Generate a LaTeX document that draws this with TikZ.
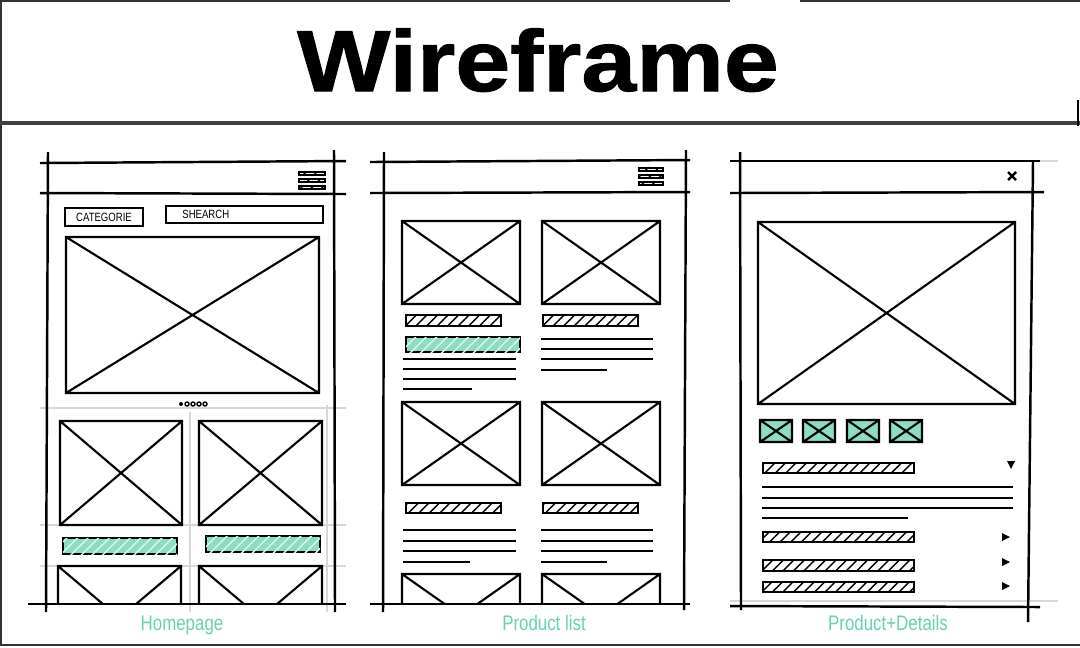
\documentclass[tikz,border=0pt]{standalone}
\usepackage{fontspec}
\usetikzlibrary{patterns}
\newfontfamily\headfont{Liberation Sans}[FakeStretch=1.14,FakeBold=1.2]
\newfontfamily\handfont{Liberation Sans}[FakeStretch=0.8]
\definecolor{wfgreen}{RGB}{104,208,172}
\definecolor{wfmint}{RGB}{140,222,192}
\definecolor{wfguide}{RGB}{215,215,215}
\newcommand{\ximg}[4]{\draw[imgbox] (#1,#2) rectangle (#3,#4) (#1,#2) -- (#3,#4) (#1,#4) -- (#3,#2);}

\begin{document}
\begin{tikzpicture}[x=0.01cm,y=-0.01cm,
  frame/.style={line width=0.7pt},
  imgbox/.style={line width=0.6pt},
  guide/.style={wfguide,line width=0.4pt},
  hatchbar/.style={line width=0.6pt,pattern=north east lines},
  greenbar/.style={line width=0.6pt,fill=wfmint,postaction={pattern=north east lines,pattern color=white!70!wfmint}},
  textline/.style={line width=0.55pt},
  burger/.style={line width=0.5pt,pattern=north east lines},
  lbl/.style={text=wfgreen,font=\handfont\fontsize{6}{7}\selectfont},
  boxtxt/.style={font=\handfont\fontsize{3.4}{4}\selectfont}]
\useasboundingbox (0,0) rectangle (1080,647);
% title band
\draw[frame,black!80] (0,1) -- (730,1) (800,1) -- (1080,1);
\draw[frame,black!80] (1,0) -- (1,646);
\draw[frame,line width=0.9pt,black!75] (0,123) -- (1080,123);
\draw[frame,black!80] (0,645) -- (1080,645);
\draw[frame] (1078,100) -- (1078,126);
\node[anchor=base,font=\headfont\bfseries\fontsize{24.6}{28}\selectfont] (title) at (538,91) {Wireframe};

% Homepage
\draw[guide] (40,408) -- (346,408) (40,525) -- (346,525) (40,566) -- (346,566);
\draw[guide] (190,412) -- (190,612) (327,405) -- (327,612);
\draw[frame] (48,152) -- (46,612);
\draw[frame] (334,150) -- (335,612);
\draw[frame] (40,163) -- (346,161);
\draw[frame] (40,193) -- (346,194);
\draw[frame] (28,604) -- (346,604);
\draw[burger] (299,172) rectangle (325,175) (299,179) rectangle (325,182) (299,186) rectangle (325,189);
\draw[imgbox] (65,208) rectangle (143,226);
\node[boxtxt] (cat) at (104,217) {CATEGORIE};
\draw[imgbox] (166,206) rectangle (323,223);
\node[boxtxt,anchor=west] (search) at (170,214) {SHEARCH};
\ximg{66}{237}{319}{393}
\fill (181,404) circle (2);
\draw[line width=0.4pt] (187,404) circle (2) (193,404) circle (2) (199,404) circle (2) (205,404) circle (2);
\ximg{60}{421}{182}{525}
\ximg{199}{421}{322}{525}
\draw[greenbar] (63,538) rectangle (177,554);
\draw[greenbar] (206,536) rectangle (320,552);
\begin{scope}
\clip (40,560) rectangle (340,604);
\ximg{58}{566}{181}{670}
\ximg{199}{566}{322}{670}
\end{scope}
\node[lbl] (home) at (182,625) {Homepage};

% Product list
\draw[guide] (370,604) -- (690,604);
\draw[frame] (384,152) -- (383,612);
\draw[frame] (686,150) -- (684,610);
\draw[frame] (370,162) -- (690,160);
\draw[frame] (370,193) -- (690,192);
\draw[frame] (370,604) -- (690,604);
\draw[burger] (639,168) rectangle (663,171) (639,175) rectangle (663,178) (639,182) rectangle (663,185);
\ximg{402}{221}{520}{304}
\ximg{542}{221}{660}{304}
\draw[hatchbar] (406,315) rectangle (501,326);
\draw[hatchbar] (543,315) rectangle (638,326);
\draw[greenbar] (406,337) rectangle (520,352);
\draw[textline] (403,359) -- (516,359) (403,369) -- (516,369) (403,379) -- (516,379) (403,389) -- (472,389);
\draw[textline] (541,339) -- (653,339) (541,349) -- (653,349) (541,359) -- (653,359) (541,370) -- (607,370);
\ximg{402}{402}{520}{485}
\ximg{542}{402}{660}{485}
\draw[hatchbar] (406,503) rectangle (501,513);
\draw[hatchbar] (543,503) rectangle (638,513);
\draw[textline] (403,530) -- (516,530) (403,541) -- (516,541) (403,551) -- (516,551) (403,562) -- (470,562);
\draw[textline] (541,530) -- (653,530) (541,541) -- (653,541) (541,551) -- (653,551) (541,562) -- (607,562);
\begin{scope}
\clip (380,570) rectangle (680,604);
\ximg{402}{574}{520}{657}
\ximg{542}{574}{660}{657}
\end{scope}
\node[lbl] (plist) at (544,623) {Product list};

% Product+Details
\draw[guide] (1030,161) -- (1058,161) (730,601) -- (1058,601);
\draw[frame] (740,152) -- (741,610);
\draw[frame] (1033,160) -- (1028,622);
\draw[frame] (730,161) -- (1040,161);
\draw[frame] (730,193) -- (1044,192);
\draw[frame] (730,606) -- (1040,607);
\draw[line width=0.7pt] (1008,172) -- (1016,180) (1008,180) -- (1016,172);
\ximg{758}{222}{1015}{404}
\foreach \x in {760,803,847,890}
  \draw[imgbox,fill=wfmint] (\x,420) rectangle ++(32,22) (\x,420) -- ++(32,22) (\x,442) -- ++(32,-22);
\draw[hatchbar] (763,463) rectangle (914,473);
\fill (1007,461) -- (1015,461) -- (1011,469) -- cycle;
\draw[textline] (762,487) -- (1013,487) (762,498) -- (1013,498) (762,508) -- (1013,508) (762,518) -- (908,518);
\draw[hatchbar] (763,532) rectangle (914,542);
\draw[hatchbar] (763,560) rectangle (914,571);
\draw[hatchbar] (763,582) rectangle (914,592);
\fill (1002,533) -- (1002,541) -- (1010,537) -- cycle;
\fill (1002,558) -- (1002,566) -- (1010,562) -- cycle;
\fill (1002,582) -- (1002,590) -- (1010,586) -- cycle;
\node[lbl] (pdet) at (888,623) {Product+Details};
\end{tikzpicture}
\end{document}
